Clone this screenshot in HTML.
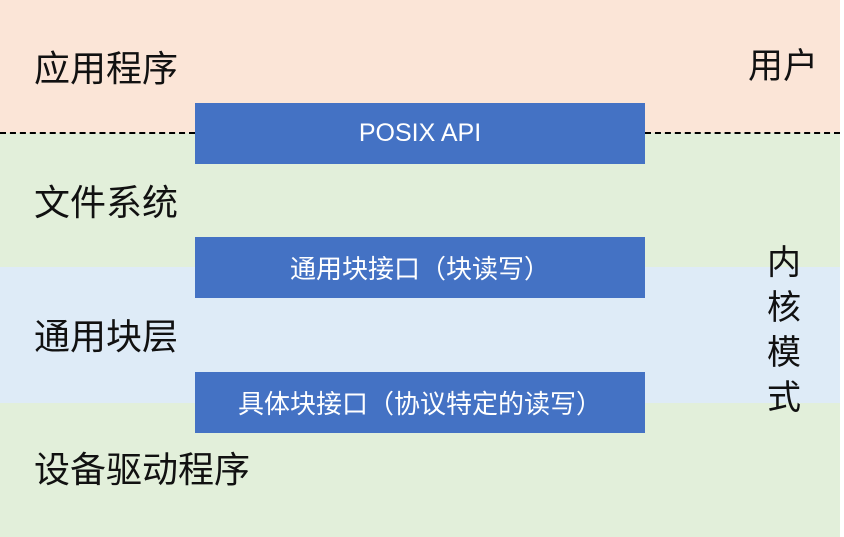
<!DOCTYPE html>
<html><head><meta charset="utf-8"><style>
body{margin:0;width:844px;height:537px;position:relative;overflow:hidden;background:#fff;font-family:"Liberation Sans","Noto Sans CJK SC",sans-serif}
.b{position:absolute;left:0;width:840px}
.t{position:absolute;font-size:36px;color:#111;line-height:1;white-space:nowrap}
.box{position:absolute;left:195px;width:450px;height:61px;background:#4472c4;color:#fff;font-size:26px;display:flex;align-items:center;justify-content:center;white-space:nowrap}
.dash{position:absolute;top:132px;height:0;border-top:2px dashed #000}
</style></head><body>
<div class="b" style="top:0;height:133px;background:#fbe5d7"></div>
<div class="b" style="top:133px;height:134px;background:#e2efda"></div>
<div class="b" style="top:267px;height:136px;background:#deebf7"></div>
<div class="b" style="top:403px;height:134px;background:#e2efda"></div>
<div class="dash" style="left:0;width:195px"></div>
<div class="dash" style="left:645px;width:195px"></div>
<div class="t" style="left:34px;top:51px">应用程序</div>
<div class="t" style="left:748px;top:49px;font-size:35px">用户</div>
<div class="t" style="left:34px;top:185px">文件系统</div>
<div class="t" style="left:34px;top:319px">通用块层</div>
<div class="t" style="left:34px;top:452px">设备驱动程序</div>
<div class="t" style="left:767px;top:241px;line-height:45px;width:36px;font-size:34px;white-space:normal">内<br>核<br>模<br>式</div>
<div class="box" style="top:103px;font-size:25px">POSIX API</div>
<div class="box" style="top:237px">通用块接口（块读写）</div>
<div class="box" style="top:372px">具体块接口（协议特定的读写）</div>
</body></html>
